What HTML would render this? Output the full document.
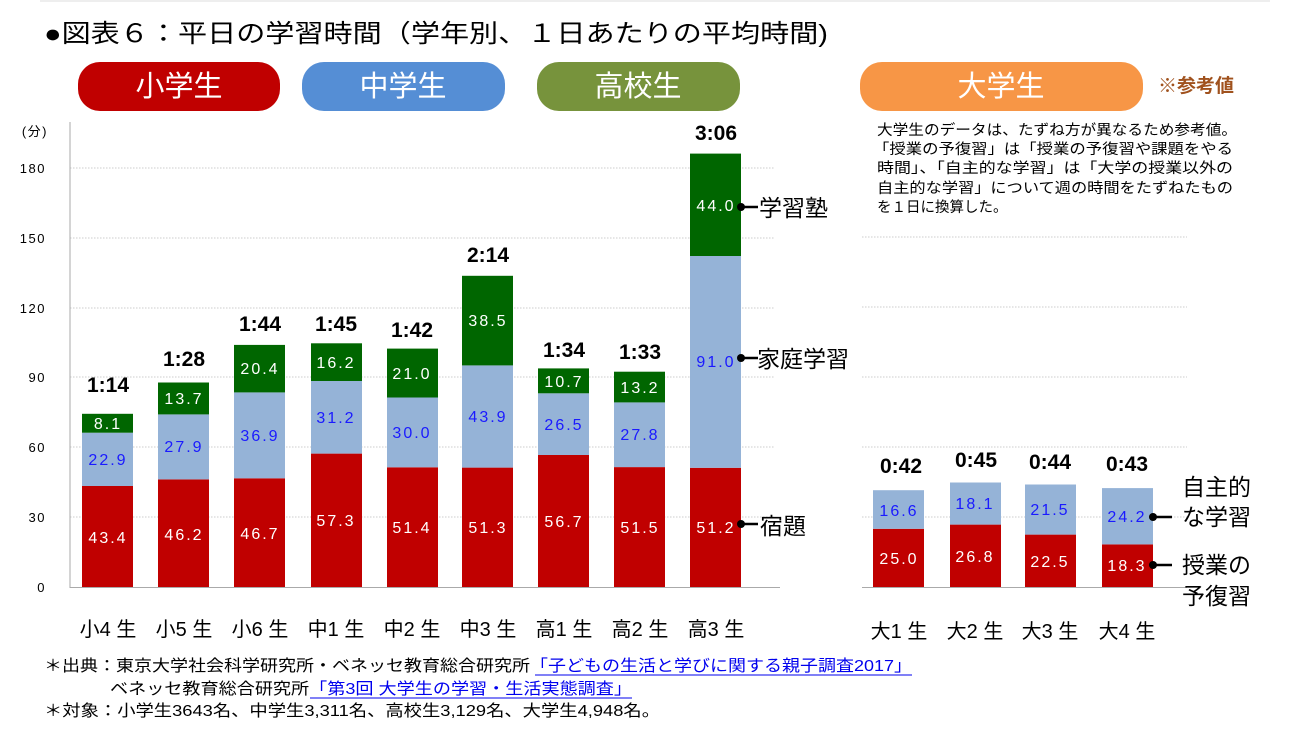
<!DOCTYPE html>
<html><head><meta charset="utf-8"><style>
body{margin:0;background:#fff;width:1294px;height:732px;overflow:hidden}
svg{display:block}
text{font-family:"Liberation Sans","Noto Sans CJK JP",sans-serif}
.v{font-size:16px;fill:#fff;text-anchor:middle;letter-spacing:2px;font-family:"Liberation Mono","Noto Sans CJK JP",monospace}
.vb{fill:#1a1aff}
.t{font-size:21px;font-weight:bold;text-anchor:middle}
.y{font-size:13px;text-anchor:end;letter-spacing:1.5px}
.x{font-size:20px;text-anchor:middle}
.lg{font-size:23px}
.n{font-size:16px}
.c{font-size:14.5px}
.g{stroke:#ccc;stroke-dasharray:1.5 1.5;stroke-width:1}
</style></head><body>
<svg width="1294" height="732" xmlns="http://www.w3.org/2000/svg">
<line x1="40" y1="1" x2="1270" y2="1" stroke="#ddd"/>
<text x="44" y="42" font-size="25" textLength="784" lengthAdjust="spacingAndGlyphs">●図表６：平日の学習時間（学年別、１日あたりの平均時間)</text>
<rect x="78" y="62" width="202" height="49" rx="22" fill="#C00000"/><text x="179" y="96" font-size="29" fill="#fff" text-anchor="middle">小学生</text>
<rect x="302" y="62" width="203" height="49" rx="22" fill="#558ED5"/><text x="403" y="96" font-size="29" fill="#fff" text-anchor="middle">中学生</text>
<rect x="537" y="62" width="203" height="49" rx="22" fill="#77933C"/><text x="638" y="96" font-size="29" fill="#fff" text-anchor="middle">高校生</text>
<rect x="860" y="62" width="283" height="49" rx="22" fill="#F79646"/><text x="1001" y="96" font-size="29" fill="#fff" text-anchor="middle">大学生</text>
<text x="1158" y="92" font-size="19" font-weight="bold" fill="#A0521E">※参考値</text>
<g class="c">
<text x="877" y="135" textLength="360" lengthAdjust="spacingAndGlyphs">大学生のデータは、たずね方が異なるため参考値。</text>
<text x="873" y="154" textLength="360" lengthAdjust="spacingAndGlyphs">「授業の予復習」は「授業の予復習や課題をやる</text>
<text x="877" y="173" textLength="356" lengthAdjust="spacingAndGlyphs">時間」、「自主的な学習」は「大学の授業以外の</text>
<text x="877" y="193" textLength="356" lengthAdjust="spacingAndGlyphs">自主的な学習」について週の時間をたずねたもの</text>
<text x="877" y="212">を１日に換算した。</text>
</g>
<g class="g">
<line x1="70" y1="168" x2="775" y2="168"/><line x1="70" y1="238" x2="775" y2="238"/><line x1="70" y1="308" x2="775" y2="308"/><line x1="70" y1="377" x2="775" y2="377"/><line x1="70" y1="447" x2="775" y2="447"/><line x1="70" y1="517" x2="775" y2="517"/>
<line x1="862" y1="237" x2="1187" y2="237"/><line x1="862" y1="307" x2="1187" y2="307"/><line x1="862" y1="377" x2="1187" y2="377"/><line x1="862" y1="447" x2="1187" y2="447"/><line x1="862" y1="517" x2="1187" y2="517"/>
</g>
<line x1="70" y1="122" x2="70" y2="588" stroke="#aaa"/>
<line x1="70" y1="587.5" x2="780" y2="587.5" stroke="#aaa"/>
<line x1="862" y1="587.5" x2="1187" y2="587.5" stroke="#aaa"/>
<g class="y"><text x="48" y="136">(分)</text><text x="46" y="173">180</text><text x="46" y="243">150</text><text x="46" y="313">120</text><text x="46" y="382">90</text><text x="46" y="452">60</text><text x="46" y="522">30</text><text x="46" y="592">0</text></g>
<g fill="#C00000">
<rect x="82" y="486" width="51" height="101"/><rect x="158" y="479.4" width="51" height="107.6"/><rect x="234" y="478.3" width="51" height="108.7"/><rect x="311" y="453.6" width="51" height="133.4"/><rect x="387" y="467.3" width="51" height="119.7"/><rect x="462" y="467.6" width="51" height="119.4"/><rect x="538" y="455" width="51" height="132"/><rect x="614" y="467.1" width="51" height="119.9"/><rect x="690" y="467.8" width="51" height="119.2"/>
<rect x="873" y="528.8" width="51" height="58.2"/><rect x="950" y="524.6" width="51" height="62.4"/><rect x="1025" y="534.6" width="51" height="52.4"/><rect x="1102" y="544.4" width="51" height="42.6"/>
</g>
<g fill="#95B3D7">
<rect x="82" y="432.7" width="51" height="53.3"/><rect x="158" y="414.4" width="51" height="65"/><rect x="234" y="392.4" width="51" height="85.9"/><rect x="311" y="381" width="51" height="72.6"/><rect x="387" y="397.5" width="51" height="69.8"/><rect x="462" y="365.4" width="51" height="102.2"/><rect x="538" y="393.3" width="51" height="61.7"/><rect x="614" y="402.4" width="51" height="64.7"/><rect x="690" y="256" width="51" height="211.8"/>
<rect x="873" y="490.2" width="51" height="38.6"/><rect x="950" y="482.5" width="51" height="42.1"/><rect x="1025" y="484.5" width="51" height="50.1"/><rect x="1102" y="488.1" width="51" height="56.3"/>
</g>
<g fill="#006600">
<rect x="82" y="413.8" width="51" height="18.9"/><rect x="158" y="382.5" width="51" height="31.9"/><rect x="234" y="344.9" width="51" height="47.5"/><rect x="311" y="343.3" width="51" height="37.7"/><rect x="387" y="348.6" width="51" height="48.9"/><rect x="462" y="275.8" width="51" height="89.6"/><rect x="538" y="368.4" width="51" height="24.9"/><rect x="614" y="371.7" width="51" height="30.7"/><rect x="690" y="153.6" width="51" height="102.4"/>
</g>
<g class="v">
<text x="108" y="543">43.4</text><text x="184" y="540">46.2</text><text x="260" y="539">46.7</text><text x="336" y="526">57.3</text><text x="412" y="533">51.4</text><text x="488" y="533">51.3</text><text x="564" y="527">56.7</text><text x="640" y="533">51.5</text><text x="716" y="533">51.2</text>
<text x="108" y="429">8.1</text><text x="184" y="404">13.7</text><text x="260" y="374">20.4</text><text x="336" y="368">16.2</text><text x="412" y="379">21.0</text><text x="488" y="326">38.5</text><text x="564" y="387">10.7</text><text x="640" y="393">13.2</text><text x="716" y="211">44.0</text>
<text x="899" y="564">25.0</text><text x="975" y="562">26.8</text><text x="1050" y="567">22.5</text><text x="1127" y="571">18.3</text>
</g>
<g class="v vb">
<text x="108" y="465">22.9</text><text x="184" y="452">27.9</text><text x="260" y="441">36.9</text><text x="336" y="423">31.2</text><text x="412" y="438">30.0</text><text x="488" y="422">43.9</text><text x="564" y="430">26.5</text><text x="640" y="440">27.8</text><text x="716" y="367">91.0</text>
<text x="899" y="516">16.6</text><text x="975" y="509">18.1</text><text x="1050" y="515">21.5</text><text x="1127" y="522">24.2</text>
</g>
<g class="t">
<text x="108" y="392">1:14</text><text x="184" y="366">1:28</text><text x="260" y="331">1:44</text><text x="336" y="331">1:45</text><text x="412" y="337">1:42</text><text x="488" y="262">2:14</text><text x="564" y="357">1:34</text><text x="640" y="359">1:33</text><text x="716" y="140">3:06</text>
<text x="901" y="473">0:42</text><text x="976" y="467">0:45</text><text x="1050" y="469">0:44</text><text x="1127" y="471">0:43</text>
</g>
<g class="x">
<text x="108" y="636">小4 生</text><text x="184" y="636">小5 生</text><text x="260" y="636">小6 生</text><text x="336" y="636">中1 生</text><text x="412" y="636">中2 生</text><text x="488" y="636">中3 生</text><text x="564" y="636">高1 生</text><text x="640" y="636">高2 生</text><text x="716" y="636">高3 生</text>
<text x="899" y="638">大1 生</text><text x="975" y="638">大2 生</text><text x="1050" y="638">大3 生</text><text x="1127" y="638">大4 生</text>
</g>
<g stroke="#000" stroke-width="2.5">
<line x1="741" y1="207" x2="758" y2="207"/><line x1="741" y1="358" x2="758" y2="358"/><line x1="741" y1="524" x2="758" y2="524"/>
<line x1="1153" y1="517" x2="1172" y2="517"/><line x1="1153" y1="565" x2="1172" y2="565"/>
</g>
<g fill="#000"><circle cx="741" cy="207" r="4"/><circle cx="741" cy="358" r="4"/><circle cx="741" cy="524" r="4"/><circle cx="1153" cy="517" r="4"/><circle cx="1153" cy="565" r="4"/></g>
<g class="lg">
<text x="759" y="216">学習塾</text><text x="757" y="367">家庭学習</text><text x="760" y="534">宿題</text>
<text x="1182" y="495">自主的</text><text x="1182" y="525">な学習</text><text x="1182" y="573">授業の</text><text x="1182" y="604">予復習</text>
</g>
<g class="n">
<text x="44" y="671" textLength="868" lengthAdjust="spacingAndGlyphs">＊出典：東京大学社会科学研究所・ベネッセ教育総合研究所<tspan fill="#0000ee">「子どもの生活と学びに関する親子調査2017」</tspan></text>
<text x="110" y="694" textLength="522" lengthAdjust="spacingAndGlyphs">ベネッセ教育総合研究所<tspan fill="#0000ee">「第3回 大学生の学習・生活実態調査」</tspan></text>
<text x="44" y="716" textLength="616" lengthAdjust="spacingAndGlyphs">＊対象：小学生3643名、中学生3,311名、高校生3,129名、大学生4,948名。</text>
</g>
<line x1="535" y1="675" x2="912" y2="675" stroke="#0000ee"/>
<line x1="310" y1="698" x2="632" y2="698" stroke="#0000ee"/>
</svg>
</body></html>
